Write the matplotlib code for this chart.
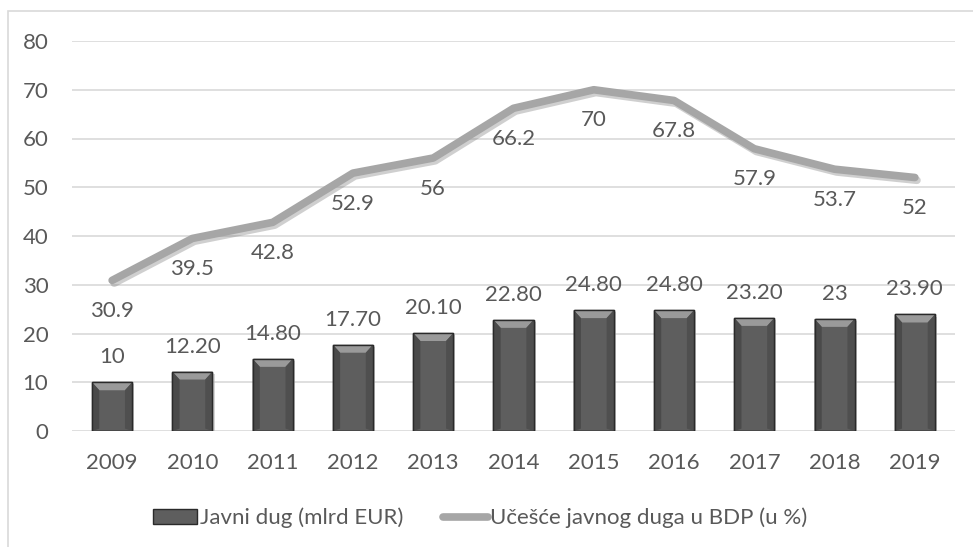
import matplotlib.pyplot as plt
import matplotlib.patheffects as pe
from matplotlib.patches import Polygon, Rectangle
from matplotlib.lines import Line2D

plt.rcParams['font.family'] = ['Lato', 'DejaVu Sans']

years = ['2009', '2010', '2011', '2012', '2013', '2014', '2015', '2016', '2017', '2018', '2019']
debt = [10, 12.2, 14.8, 17.7, 20.1, 22.8, 24.8, 24.8, 23.2, 23, 23.9]
debt_labels = ['10', '12.20', '14.80', '17.70', '20.10', '22.80', '24.80', '24.80', '23.20', '23', '23.90']
share = [30.9, 39.5, 42.8, 52.9, 56, 66.2, 70, 67.8, 57.9, 53.7, 52]
share_labels = ['30.9', '39.5', '42.8', '52.9', '56', '66.2', '70', '67.8', '57.9', '53.7', '52']
y_ticks = [0, 10, 20, 30, 40, 50, 60, 70, 80]

text_color = '#595959'
grid_color = '#d9d9d9'
bar_color = '#5e5e5e'
line_color = '#a6a6a6'

fig = plt.figure(figsize=(9.73, 5.47), dpi=100)
ax = fig.add_axes([72 / 973, 116 / 547, 883 / 973, 390 / 547])

# chart frame (only the top and left edges are visible in the crop)
fig.patches.append(Rectangle((8 / 973, -0.1), 1.2, (547 - 11) / 547 + 0.1,
                             transform=fig.transFigure, fill=False,
                             edgecolor=grid_color, linewidth=1.2))

x = list(range(len(years)))
bars = ax.bar(x, debt, width=0.5, color=bar_color, edgecolor='#2a2a2a', linewidth=1, zorder=3,
              path_effects=[pe.SimplePatchShadow(offset=(1.5, -1.5), shadow_rgbFace='#bbbbbb', alpha=0.6),
                            pe.Normal()])

# bevel on top of each bar
bevel_h = 8 / 4.875
bevel_w = 0.09
for rect in bars:
    x0 = rect.get_x()
    x1 = x0 + rect.get_width()
    top = rect.get_height()
    ax.add_patch(Polygon([(x0, top), (x1, top), (x1 - bevel_w, top - bevel_h), (x0 + bevel_w, top - bevel_h)],
                         closed=True, facecolor='#9a9a9a', edgecolor='none', zorder=4))
    ax.add_patch(Polygon([(x0, top), (x0 + bevel_w, top - bevel_h), (x0 + bevel_w, bevel_h * 0.3), (x0, 0)],
                         closed=True, facecolor='#4a4a4a', edgecolor='none', zorder=4))
    ax.add_patch(Polygon([(x1, top), (x1 - bevel_w, top - bevel_h), (x1 - bevel_w, bevel_h * 0.3), (x1, 0)],
                         closed=True, facecolor='#4f4f4f', edgecolor='none', zorder=4))
    ax.add_patch(Rectangle((x0, 0), x1 - x0, top, fill=False, edgecolor='#2a2a2a', linewidth=1, zorder=5))

ax.plot(x, share, color=line_color, linewidth=5.5, solid_capstyle='round', solid_joinstyle='round', zorder=6,
        path_effects=[pe.SimpleLineShadow(offset=(1.5, -2), shadow_color='#777777', alpha=0.35), pe.Normal()])

for xi, v, lab in zip(x, debt, debt_labels):
    ax.annotate(lab, (xi, v), xytext=(0, 18), textcoords='offset points', ha='center', va='center',
                fontsize=16, color=text_color, zorder=7)
for xi, v, lab in zip(x, share, share_labels):
    ax.annotate(lab, (xi, v), xytext=(0, -22), textcoords='offset points', ha='center', va='center',
                fontsize=16, color=text_color, zorder=7)

ax.set_xlim(-0.5, len(years) - 0.5)
ax.set_ylim(0, 80)
ax.set_yticks(y_ticks)
ax.set_xticks(x)
ax.set_xticklabels(years)
ax.tick_params(axis='both', length=0, labelsize=16, labelcolor=text_color)
ax.tick_params(axis='y', pad=17)
ax.tick_params(axis='x', pad=16)
ax.grid(axis='y', color=grid_color, linewidth=1.2, zorder=0)
ax.set_axisbelow(True)
for s in ax.spines.values():
    s.set_visible(False)

handles = [Rectangle((0, 0), 1, 1, facecolor=bar_color, edgecolor='#2a2a2a', linewidth=1),
           Line2D([], [], color=line_color, linewidth=5.5, solid_capstyle='round')]
fig.legend(handles, ['Javni dug (mlrd EUR)', 'Učešće javnog duga u BDP (u %)'],
           loc='center', bbox_to_anchor=(480 / 973, 1 - 518 / 547), ncol=2, frameon=False,
           fontsize=16, labelcolor=text_color, handlelength=2.0, handleheight=0.6,
           handletextpad=0.1, columnspacing=1.8)

fig.savefig('out.png', dpi=100)
